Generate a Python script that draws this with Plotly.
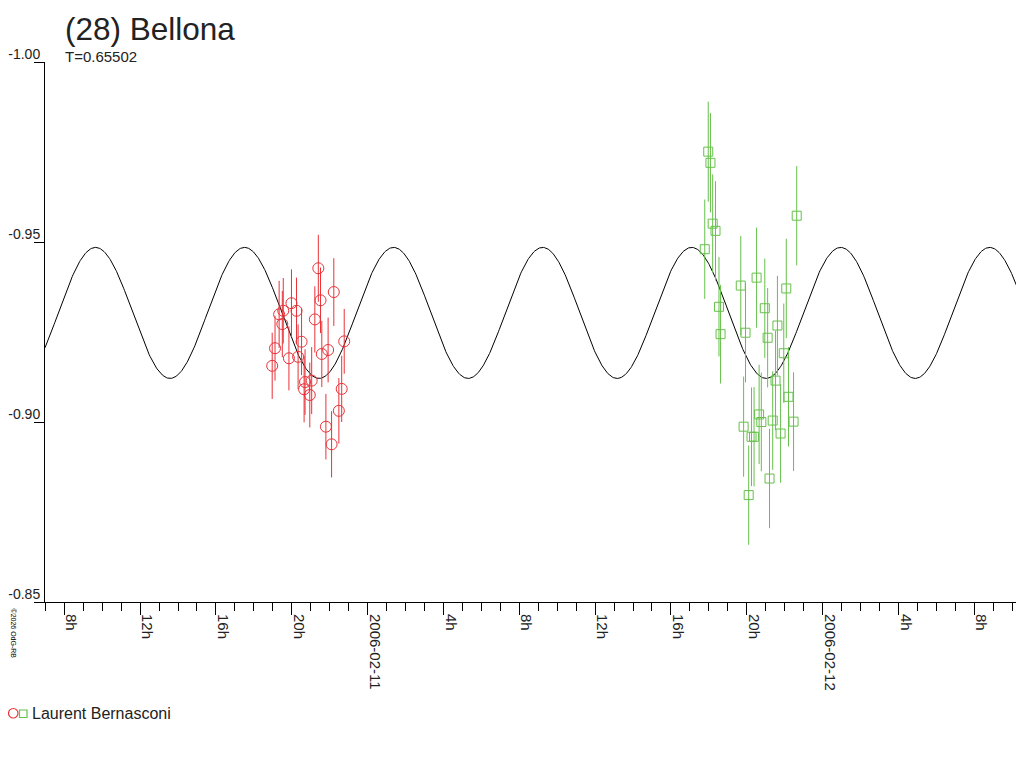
import numpy as np
import pandas as pd
import plotly.graph_objects as go

# (28) Bellona, lightcurve 2006-02-10 / 2006-02-11, observer Laurent Bernasconi
# magnitudes (reversed axis, brighter up)

red_time = [
    "2006-02-10 18:58", "2006-02-10 19:07", "2006-02-10 19:20", "2006-02-10 19:33",
    "2006-02-10 19:30", "2006-02-10 19:51", "2006-02-10 19:59", "2006-02-10 20:15",
    "2006-02-10 20:20", "2006-02-10 20:31", "2006-02-10 20:42", "2006-02-10 20:39",
    "2006-02-10 20:57", "2006-02-10 21:03", "2006-02-10 21:13", "2006-02-10 21:24",
    "2006-02-10 21:31", "2006-02-10 21:35", "2006-02-10 21:55", "2006-02-10 21:48",
    "2006-02-10 22:06", "2006-02-10 22:13", "2006-02-10 22:29", "2006-02-10 22:38",
    "2006-02-10 22:46",
]
red_mag = [
    -0.9156, -0.9205, -0.9299, -0.9309, -0.9272, -0.9177, -0.9330, -0.9309,
    -0.9181, -0.9223, -0.9111, -0.9091, -0.9075, -0.9115, -0.9285, -0.9427,
    -0.9338, -0.9189, -0.9200, -0.8987, -0.8938, -0.9361, -0.9031, -0.9092,
    -0.9224,
]
red_err = [
    0.0092, 0.0090, 0.0093, 0.0091, 0.0092, 0.0089, 0.0094, 0.0092,
    0.0090, 0.0093, 0.0091, 0.0092, 0.0090, 0.0093, 0.0092, 0.0093,
    0.0091, 0.0092, 0.0090, 0.0091, 0.0092, 0.0094, 0.0091, 0.0092,
    0.0090,
]

green_time = [
    "2006-02-11 17:47", "2006-02-11 17:58", "2006-02-11 18:05", "2006-02-11 18:12",
    "2006-02-11 18:21", "2006-02-11 18:32", "2006-02-11 18:37", "2006-02-11 19:41",
    "2006-02-11 19:50", "2006-02-11 19:56", "2006-02-11 20:06", "2006-02-11 20:15",
    "2006-02-11 20:23", "2006-02-11 20:31", "2006-02-11 20:39", "2006-02-11 20:46",
    "2006-02-11 20:57", "2006-02-11 21:06", "2006-02-11 21:12", "2006-02-11 21:22",
    "2006-02-11 21:31", "2006-02-11 21:37", "2006-02-11 21:47", "2006-02-11 21:57",
    "2006-02-11 22:05", "2006-02-11 22:12", "2006-02-11 22:28", "2006-02-11 22:38",
]
green_mag = [
    -0.9480, -0.9751, -0.9720, -0.9551, -0.9531, -0.9320, -0.9244, -0.9379,
    -0.8987, -0.9248, -0.8797, -0.8959, -0.8959, -0.9401, -0.9021, -0.9000,
    -0.9316, -0.9234, -0.8843, -0.9004, -0.9115, -0.9268, -0.8968, -0.9191,
    -0.9371, -0.9070, -0.9001, -0.9573,
]
green_err = [
    0.0138, 0.0139, 0.0138, 0.0137, 0.0138, 0.0138, 0.0137, 0.0138,
    0.0139, 0.0138, 0.0138, 0.0137, 0.0138, 0.0139, 0.0138, 0.0137,
    0.0138, 0.0138, 0.0138, 0.0137, 0.0138, 0.0138, 0.0137, 0.0138,
    0.0138, 0.0138, 0.0137, 0.0138,
]

# fitted model: double-peaked lightcurve, period in days
period_days = 0.65502
fit_mean = -0.9303
fit_amp = 0.0182
fit_epoch = "2006-02-10 09:39"

x_range = ["2006-02-10 06:59", "2006-02-12 10:31"]
x_tickvals = [
    "2006-02-10 08:00", "2006-02-10 12:00", "2006-02-10 16:00", "2006-02-10 20:00",
    "2006-02-11 00:00", "2006-02-11 04:00", "2006-02-11 08:00", "2006-02-11 12:00",
    "2006-02-11 16:00", "2006-02-11 20:00", "2006-02-12 00:00", "2006-02-12 04:00",
    "2006-02-12 08:00",
]
x_ticktext = ["8h", "12h", "16h", "20h", "2006-02-11", "4h", "8h", "12h",
              "16h", "20h", "2006-02-12", "4h", "8h"]
y_tickvals = [-1.00, -0.95, -0.90, -0.85]
y_ticktext = ["-1.00", "-0.95", "-0.90", "-0.85"]

RED = "rgb(232,50,56)"
GREEN = "rgb(102,192,74)"
FONT = "Liberation Sans, Arial, sans-serif"
TXT = "#222"

# page is 1024x768, the html body adds an 8px margin on every side
W, H = 1024, 768
BODY = 8
PL, PR, PT, PB = 45, 1022, 62, 602      # plot area in page pixels
FIG_W = W - BODY
FIG_H = H - 2 * BODY                      # keep the page free of a scrollbar


def px(x):
    return (x - PL) / (PR - PL)


def py(y):
    return (PB - y) / (PB - PT)


t_fit = pd.date_range(x_range[0], x_range[1], periods=1500)
phase = (t_fit - pd.Timestamp(fit_epoch)) / pd.Timedelta(days=period_days)
mag_fit = fit_mean - fit_amp * np.cos(4 * np.pi * np.asarray(phase, dtype=float))

fig = go.Figure()

fig.add_trace(go.Scatter(
    x=t_fit, y=mag_fit, mode="lines",
    line=dict(color="black", width=1), hoverinfo="skip",
))
fig.add_trace(go.Scatter(
    x=pd.to_datetime(red_time), y=red_mag, mode="markers",
    marker=dict(symbol="circle-open", size=11, color=RED, line=dict(width=1)),
    error_y=dict(type="data", array=red_err, color=RED, thickness=1, width=0),
    name="Laurent Bernasconi",
))
fig.add_trace(go.Scatter(
    x=pd.to_datetime(green_time), y=green_mag, mode="markers",
    marker=dict(symbol="square-open", size=9, color=GREEN, line=dict(width=1)),
    error_y=dict(type="data", array=green_err, color=GREEN, thickness=1, width=0),
    name="Laurent Bernasconi",
))

fig.update_xaxes(
    type="date", range=x_range, automargin=False,
    tickmode="array", tickvals=x_tickvals, ticktext=x_ticktext,
    tickangle=90, ticks="outside", ticklen=12, tickcolor="black", tickwidth=1,
    minor=dict(tickmode="linear", tick0="2006-02-10 00:00", dtick=3600000,
               ticks="outside", ticklen=8, tickcolor="black", tickwidth=1),
    showline=True, linecolor="black", linewidth=1,
    showgrid=False, zeroline=False,
    tickfont=dict(family=FONT, size=15, color=TXT),
    ticklabelshift=7, ticklabelstandoff=-4,
)
fig.update_yaxes(
    range=[-0.85, -1.00], automargin=False,
    tickmode="array", tickvals=y_tickvals, ticktext=y_ticktext,
    ticks="outside", ticklen=10, tickcolor="black", tickwidth=1,
    ticklabelposition="outside top",
    showline=True, linecolor="black", linewidth=1,
    showgrid=False, zeroline=False,
    tickfont=dict(family=FONT, size=14, color=TXT),
    ticklabelstandoff=1, ticklabelshift=-2,
)

fig.add_annotation(
    x=px(63), y=py(29), xref="paper", yref="paper", xanchor="left", yanchor="middle",
    text="(28) Bellona", showarrow=False,
    font=dict(family=FONT, size=31.5, color=TXT),
)
fig.add_annotation(
    x=px(63), y=py(57), xref="paper", yref="paper", xanchor="left", yanchor="middle",
    text="T=0.65502", showarrow=False,
    font=dict(family=FONT, size=15, color=TXT),
)
fig.add_annotation(
    x=px(30), y=py(713), xref="paper", yref="paper", xanchor="left", yanchor="middle",
    text="Laurent Bernasconi", showarrow=False,
    font=dict(family=FONT, size=16, color=TXT),
)
fig.add_annotation(
    x=px(13.5), y=py(633), xref="paper", yref="paper", xanchor="center", yanchor="middle",
    text="©2026 OdG-RB", textangle=90, showarrow=False,
    font=dict(family=FONT, size=7, color="black"),
)
# legend symbols
fig.add_shape(type="circle", xref="paper", yref="paper",
              x0=px(8.5), x1=px(18), y0=py(718), y1=py(708.5),
              line=dict(color=RED, width=1.2))
fig.add_shape(type="rect", xref="paper", yref="paper",
              x0=px(19.5), x1=px(27), y0=py(717.5), y1=py(710),
              line=dict(color=GREEN, width=1.2))

fig.update_layout(
    width=FIG_W, height=FIG_H,
    margin=dict(l=PL - BODY, r=BODY + FIG_W - PR, t=PT - BODY,
                b=BODY + FIG_H - PB),
    paper_bgcolor="white", plot_bgcolor="white",
    showlegend=False,
    font=dict(family=FONT, color=TXT),
)

fig.write_html("out.html")
